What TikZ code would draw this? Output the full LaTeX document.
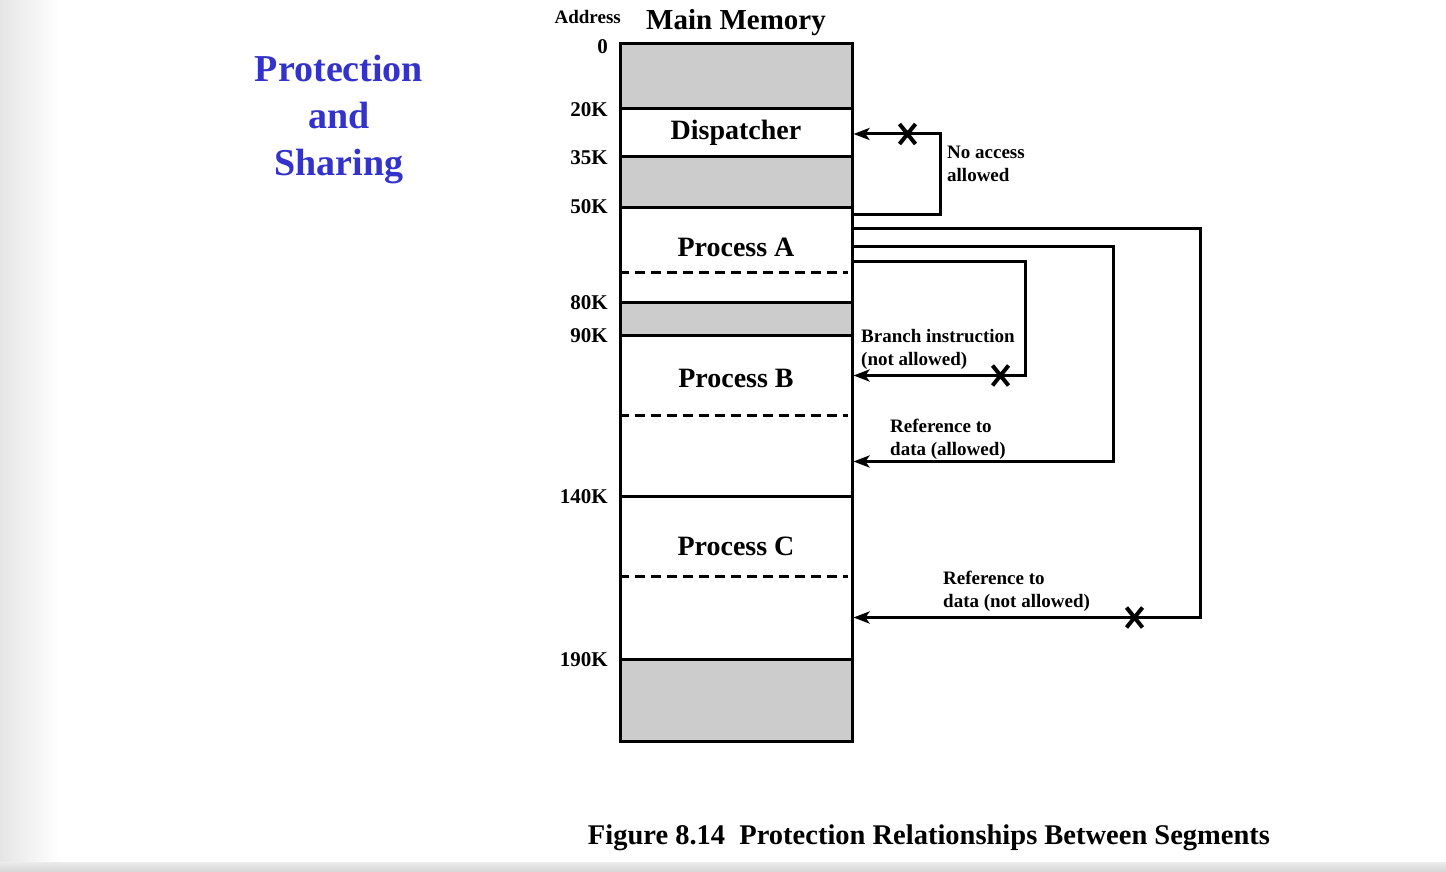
\documentclass[tikz,border=0pt]{standalone}
\usepackage{fontspec}
\setmainfont{Liberation Serif}
\usetikzlibrary{arrows.meta}
\definecolor{titleblue}{RGB}{51,51,204}
\definecolor{seggray}{RGB}{204,204,204}
\begin{document}
\begin{tikzpicture}[x=1pt,y=-1pt,
  seg/.style={draw=black, line width=3pt, minimum width=232pt, inner sep=0pt, rectangle},
  graycell/.style={seg, fill=seggray},
  addr/.style={font=\bfseries\fontsize{21}{21}\selectfont, anchor=east, inner sep=0pt},
  seglabel/.style={font=\bfseries\fontsize{28}{28}\selectfont, inner sep=0pt},
  note/.style={font=\bfseries\fontsize{19}{23}\selectfont, align=left, anchor=west, inner sep=0pt},
  divider/.style={line width=3pt, dash pattern=on 10pt off 6pt},
  link/.style={line width=3pt, -{Stealth[length=16pt,width=12pt,inset=4pt]}},
  xmark/.pic={\draw[line width=4pt] (-8,-10) -- (8,10) (-8,10) -- (8,-10);}
]
\useasboundingbox (0,0) rectangle (1446,872);
% background
\fill[white] (0,0) rectangle (1446,872);
\shade[left color=black!10, right color=white] (0,0) rectangle (60,872);
\shade[top color=black!8, bottom color=black!16] (0,862) rectangle (1446,872);

% title
\node[font=\bfseries\fontsize{38}{47}\selectfont, text=titleblue, align=center] (title) at (339,120) {Protection\\and\\Sharing};

% headings
\node[addr, font=\bfseries\fontsize{19}{19}\selectfont] (address) at (621,17) {Address};
\node[seglabel, font=\bfseries\fontsize{29}{29}\selectfont] (mainmem) at (736,23) {Main Memory};

% memory segments
\node[graycell, minimum height=65pt] (g0) at (736,76.5) {};
\node[seg, minimum height=48pt] (disp) at (736,133) {};
\node[graycell, minimum height=50pt] (g1) at (736,182) {};
\node[seg, minimum height=95pt] (pa) at (736,254.5) {};
\node[graycell, minimum height=33pt] (g2) at (736,318.5) {};
\node[seg, minimum height=161pt] (pb) at (736,415.5) {};
\node[seg, minimum height=163pt] (pc) at (736,577.5) {};
\node[graycell, minimum height=82pt] (g3) at (736,700) {};

% segment labels
\node[seglabel] (tdisp) at (736,133) {Dispatcher};
\node[seglabel] (tpa) at (736,247) {Process A};
\node[seglabel] (tpb) at (736,378) {Process B};
\node[seglabel] (tpc) at (736,546) {Process C};

% dashed dividers
\draw[divider] ([yshift=-67pt]pa.north west) -- ([yshift=-67pt,xshift=-6pt]pa.north east);
\draw[divider] ([yshift=-82pt]pb.north west) -- ([yshift=-82pt,xshift=-6pt]pb.north east);
\draw[divider] ([yshift=-82pt]pc.north west) -- ([yshift=-82pt,xshift=-6pt]pc.north east);

% addresses
\node[addr] (a0) at (608,47) {0};
\node[addr] (a20) at (608,110) {20K};
\node[addr] (a35) at (608,158) {35K};
\node[addr] (a50) at (608,207) {50K};
\node[addr] (a80) at (608,303) {80K};
\node[addr] (a90) at (608,336) {90K};
\node[addr] (a140) at (608,497) {140K};
\node[addr] (a190) at (608,660) {190K};

% connector end points
\coordinate (sa) at ([yshift=-9pt]pa.north east);
\coordinate (sn) at ([yshift=-23pt]pa.north east);
\coordinate (sr) at ([yshift=-41pt]pa.north east);
\coordinate (sb) at ([yshift=-56pt]pa.north east);
\coordinate (td) at ([yshift=-1pt]disp.east);
\coordinate (tb) at ([yshift=-42pt]pb.north east);
\coordinate (tr) at ([yshift=-128pt]pb.north east);
\coordinate (tc) at ([yshift=-123pt]pc.north east);

% connectors
\draw[link] (sa) -| ([xshift=87pt]td) -- (td);
\draw[link] (sb) -| ([xshift=172pt]tb) -- (tb);
\draw[link] (sr) -| ([xshift=260pt]tr) -- (tr);
\draw[link] (sn) -| ([xshift=347pt]tc) -- (tc);

% crosses
\pic at ([xshift=54pt]td) {xmark};
\pic at ([xshift=147pt]tb) {xmark};
\pic at ([xshift=281pt]tc) {xmark};

% notes
\node[note] (nnoacc) at (947,164) {No access\\allowed};
\node[note] (nbranch) at (861,349) {Branch instruction\\(not allowed)};
\node[note] (nrefok) at (890,439) {Reference to\\data (allowed)};
\node[note] (nrefno) at (943,591) {Reference to\\data (not allowed)};

% caption
\node[font=\bfseries\fontsize{28.5}{28.5}\selectfont] (caption) at (929,838) {Figure 8.14\ \ Protection Relationships Between Segments};
\end{tikzpicture}
\end{document}
